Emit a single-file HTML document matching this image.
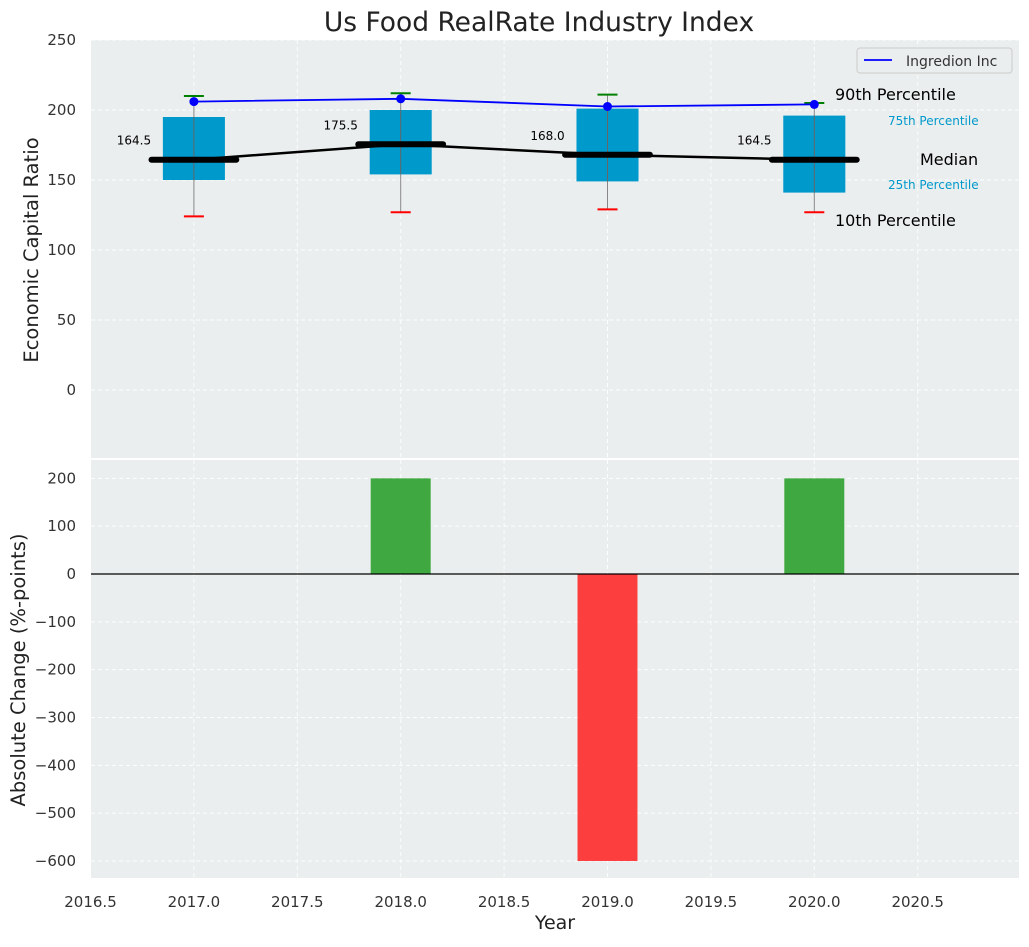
<!DOCTYPE html>
<html><head><meta charset="utf-8"><style>
body{margin:0;background:#fff;font-family:"Liberation Sans","DejaVu Sans",sans-serif}
svg text{font-family:"DejaVu Sans","Liberation Sans",sans-serif}
</style></head><body>
<svg id="c" width="1029" height="942" xmlns="http://www.w3.org/2000/svg"></svg>
<script>
const years=[2017,2018,2019,2020];
const q1=[150,154,149,141];
const q3=[195,200,201,196];
const p10=[124,127,129,127];
const p90=[210,212,211,205];
const medians=[164.5,175.5,168.0,164.5];
const company=[206,208,202.5,204];
const changes=[0,200,-600,200];
const xTicks=[2016.5,2017.0,2017.5,2018.0,2018.5,2019.0,2019.5,2020.0,2020.5];
const topTicks=[0,50,100,150,200,250];
const botTicks=[200,100,0,-100,-200,-300,-400,-500,-600];

const S="http://www.w3.org/2000/svg",svg=document.getElementById('c');
function el(t,a,name,p){const e=document.createElementNS(S,t);for(const k in a)e.setAttribute(k,a[k]);


(p||svg).appendChild(e);return e;}
function tx(x,y,s,a,name){const e=el('text',Object.assign({x:x,y:y,fill:'#333'},a),name);e.textContent=s;return e;}
const L=91,R=1019;
const X=v=>90.5+(v-2016.5)*206.8;
const T0=40,T1=458,Yt=v=>390-v*1.4;
const B0=460,B1=878,Yb=v=>574-v*0.4783;
el('rect',{x:L,y:T0,width:R-L,height:T1-T0,fill:'#eaeeee'},'top-plot-area');
el('rect',{x:L,y:B0,width:R-L,height:B1-B0,fill:'#eaeeee'},'bottom-plot-area');
const gs={stroke:'#fff','stroke-dasharray':'4,3','stroke-width':1,opacity:0.9};
xTicks.forEach(v=>{el('line',Object.assign({x1:X(v),x2:X(v),y1:T0,y2:T1},gs),'top-x-gridline');
el('line',Object.assign({x1:X(v),x2:X(v),y1:B0,y2:B1},gs),'bottom-x-gridline');
tx(X(v),907,v.toFixed(1),{'text-anchor':'middle','font-size':15},'x-tick-label');});
topTicks.forEach(v=>{el('line',Object.assign({x1:L,x2:R,y1:Yt(v),y2:Yt(v)},gs),'top-y-gridline');
tx(76,Yt(v)+5,v,{'text-anchor':'end','font-size':15},'top-y-tick-label');});
botTicks.forEach(v=>{el('line',Object.assign({x1:L,x2:R,y1:Yb(v),y2:Yb(v)},gs),'bottom-y-gridline');
tx(76,Yb(v)+5,v<0?'\u2212'+(-v):v,{'text-anchor':'end','font-size':15},'bottom-y-tick-label');});
const bw=0.3*206.8,mw=0.41*206.8,cw=20;
years.forEach((y,i)=>{const x=X(y);
el('line',{x1:x,x2:x,y1:Yt(p10[i]),y2:Yt(p90[i]),stroke:'#888','stroke-width':1},'whisker');
el('rect',{x:x-bw/2,y:Yt(q3[i]),width:bw,height:Yt(q1[i])-Yt(q3[i]),fill:'#0099cc'},'iqr-box');
el('line',{x1:x,x2:x,y1:Yt(q1[i]),y2:Yt(q3[i]),stroke:'#666','stroke-width':1},'box-center-line');
el('line',{x1:x-cw/2,x2:x+cw/2,y1:Yt(p90[i]),y2:Yt(p90[i]),stroke:'green','stroke-width':2},'p90-cap');
el('line',{x1:x-cw/2,x2:x+cw/2,y1:Yt(p10[i]),y2:Yt(p10[i]),stroke:'red','stroke-width':2},'p10-cap');
el('line',{x1:x-mw/2,x2:x+mw/2,y1:Yt(medians[i]),y2:Yt(medians[i]),stroke:'#000','stroke-width':6,'stroke-linecap':'round'},'median-bar');
tx(x-60,Yt(medians[i])-15,medians[i].toFixed(1),{'text-anchor':'middle','font-size':12,fill:'#000'},'median-label');});
el('polyline',{points:years.map((y,i)=>X(y)+','+Yt(medians[i])).join(' '),fill:'none',stroke:'#000','stroke-width':2.5},'median-line');
el('polyline',{points:years.map((y,i)=>X(y)+','+Yt(company[i])).join(' '),fill:'none',stroke:'blue','stroke-width':1.8},'ingredion-line');
years.forEach((y,i)=>el('circle',{cx:X(y),cy:Yt(company[i]),r:4.5,fill:'blue'},'ingredion-point'));
tx(835,100,'90th Percentile',{'font-size':16,fill:'#000'},'p90-annotation');
tx(888,125,'75th Percentile',{'font-size':12,fill:'#0099cc'},'p75-annotation');
tx(920,165,'Median',{'font-size':16,fill:'#000'},'median-annotation');
tx(888,189,'25th Percentile',{'font-size':12,fill:'#0099cc'},'p25-annotation');
tx(835,226,'10th Percentile',{'font-size':16,fill:'#000'},'p10-annotation');
const lg=el('g',{},'legend');
el('rect',{x:857,y:48,width:155,height:25,rx:3,fill:'#eaeeee',stroke:'#ccc'},'legend-box',lg);
el('line',{x1:864,x2:892,y1:60,y2:60,stroke:'blue','stroke-width':1.8},'legend-swatch',lg);
tx(906,66,'Ingredion Inc',{'font-size':14},'legend-label');
const barw=0.29*206.8;
years.forEach((y,i)=>{if(!changes[i])return;const v=changes[i];
el('rect',{x:X(y)-barw/2,y:Math.min(Yb(v),Yb(0)),width:barw,height:Math.abs(Yb(v)-Yb(0)),fill:v>0?'#2ca02c':'#ff2a2a',opacity:0.9},'change-bar');});
el('line',{x1:L,x2:R,y1:Yb(0),y2:Yb(0),stroke:'#000','stroke-width':1.2},'zero-line');
tx(539,31,'Us Food RealRate Industry Index',{'text-anchor':'middle','font-size':26.5,fill:'#222'},'chart-title');
tx(555,929,'Year',{'text-anchor':'middle','font-size':19,fill:'#222'},'x-axis-title');
tx(38,250,'Economic Capital Ratio',{'text-anchor':'middle','font-size':19.5,fill:'#222',transform:'rotate(-90 38 250)'},'top-y-axis-title');
tx(25,670,'Absolute Change (%-points)',{'text-anchor':'middle','font-size':19.5,fill:'#222',transform:'rotate(-90 25 670)'},'bottom-y-axis-title');
</script></body></html>
